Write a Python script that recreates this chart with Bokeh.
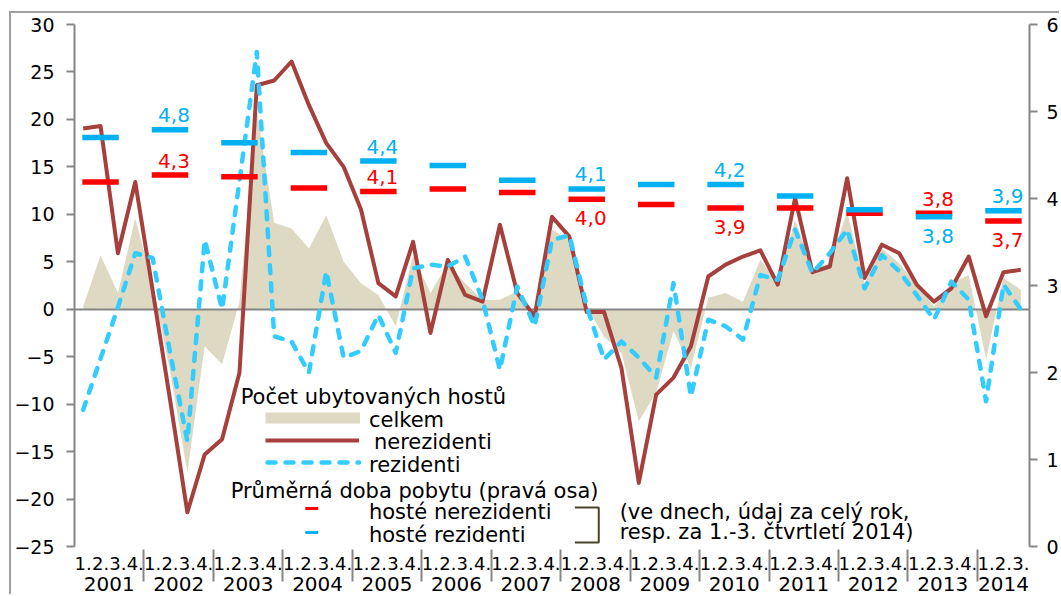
from bokeh.plotting import figure
from bokeh.models import (FactorRange, Range1d, LinearAxis, FixedTicker, Label,
                          ColumnDataSource)
from bokeh.embed import file_html
from bokeh.resources import INLINE
from bokeh.core.properties import value

# ---------------- data ----------------
years = [str(y) for y in range(2001, 2015)]
quarter_labels = ["1.", "2.", "3.", "4."]
factors = [(y, q) for y in years for q in (quarter_labels[:3] if y == "2014" else quarter_labels)]

# y/y change of number of guests (%), left axis
celkem = [0.3, 5.7, 1.7, 9.6,
          2.5, -6.5, -17.2, -3.9,
          -5.8, 0.8, 21.0, 9.1,
          8.5, 6.4, 9.9, 5.0,
          2.75, 1.5, -1.8, 5.7,
          1.7, 4.85, 2.75, 1.0,
          1.0, 1.9, -0.4, 8.4,
          7.3, 0.3, -2.9, -4.6,
          -11.8, -8.8, -2.3, -6.2,
          1.2, 1.7, 0.8, 5.2,
          2.8, 9.4, 4.3, 4.85,
          10.3, 2.75, 6.4, 4.85,
          2.6, 0.3, 2.75, 3.6,
          -5.3, 3.3, 2.05]
nerezidenti = [19.05, 19.3, 5.9, 13.4,
               2.0, -9.5, -21.4, -15.3,
               -13.7, -6.7, 23.6, 24.1,
               26.1, 21.5, 17.5, 15.0,
               10.5, 2.75, 1.35, 7.1,
               -2.5, 5.2, 1.5, 0.8,
               8.9, 1.7, -0.75, 9.75,
               7.65, -0.3, -0.3, -6.2,
               -18.3, -9.0, -7.2, -3.9,
               3.45, 4.7, 5.55, 6.2,
               2.6, 11.7, 3.9, 4.5,
               13.8, 3.3, 6.8, 5.9,
               2.6, 0.8, 2.2, 5.55,
               -0.75, 3.9, 4.15]
rezidenti = [-10.6, -5.2, 0.2, 5.9,
             5.4, -4.5, -13.9, 7.3,
             0.0, 13.5, 27.1, -2.85,
             -3.4, -6.7, 4.0, -5.1,
             -4.4, -0.6, -4.6, 4.3,
             4.7, 4.5, 5.55, 1.0,
             -6.4, 2.4, -1.8, 7.3,
             7.8, 0.3, -5.3, -3.4,
             -5.1, -7.2, 2.75, -9.2,
             -1.1, -1.8, -3.2, 3.6,
             3.1, 8.4, 3.8, 5.9,
             8.4, 2.2, 5.7, 4.0,
             1.5, -1.1, 2.9, 1.0,
             -9.7, 2.6, 0.0]

# average length of stay (days), right axis, one value per year
doba_nerezidenti = [4.19, 4.27, 4.25, 4.12, 4.08, 4.11, 4.07, 3.99, 3.93, 3.89, 3.89, 3.83, 3.83, 3.74]
doba_rezidenti = [4.70, 4.79, 4.64, 4.53, 4.43, 4.38, 4.21, 4.11, 4.16, 4.16, 4.03, 3.87, 3.79, 3.86]

# which years carry value labels: (label of rezidenti, label of nerezidenti)
label_sides = {"2002": ("above", "above"), "2005": ("above", "above"),
               "2008": ("above", "below"), "2010": ("above", "below"),
               "2013": ("below", "above"), "2014": ("above", "below")}

left_ticks = list(range(-25, 31, 5))
right_ticks = [0, 1, 2, 3, 4, 5, 6]

# ---------------- style ----------------
FONT = "DejaVu Sans"
GRAY = "#868686"
C_AREA = "#DDD9C3"
C_NER = "#A5403D"
C_REZ = "#33CCFF"
C_BAR_NER = "#FF0000"
C_BAR_REZ = "#00B0F0"
DASH = "8 10"
TEXT_LIFT = 7  # px: compensates the baseline placement of SVG texts

p = figure(x_range=FactorRange(factors=factors, range_padding=0, group_padding=0,
                               factor_padding=0, subgroup_padding=0),
           y_range=Range1d(-25, 30), width=1050, height=583,
           output_backend="svg", toolbar_location=None,
           min_border_left=59, min_border_right=31, min_border_top=11, min_border_bottom=50)
# outer chart frame: top and left border line, as in the reference
p.styles = {"margin-left": "9px", "margin-top": "11px",
            "border-left": "2px solid #A0A0A0", "border-top": "2px solid #A0A0A0"}
p.extra_y_ranges = {"right": Range1d(0, 6)}
p.outline_line_color = None
p.background_fill_color = "white"
p.border_fill_color = "white"
p.xgrid.visible = False
p.ygrid.visible = False

# left axis
ya = p.yaxis[0]
ya.ticker = FixedTicker(ticks=left_ticks)
ya.axis_line_color = GRAY
ya.axis_line_width = 2
ya.major_tick_line_color = GRAY
ya.major_tick_line_width = 2
ya.major_tick_out = 8
ya.major_tick_in = 0
ya.minor_tick_line_color = None
ya.major_label_text_font = FONT
ya.major_label_text_font_size = "19px"
ya.major_label_text_color = "black"
ya.major_label_standoff = 12

# right axis
ra = LinearAxis(y_range_name="right", ticker=FixedTicker(ticks=right_ticks))
ra.axis_line_color = GRAY
ra.axis_line_width = 2
ra.major_tick_line_color = GRAY
ra.major_tick_line_width = 2
ra.major_tick_out = 8
ra.major_tick_in = 0
ra.minor_tick_line_color = None
ra.major_label_text_font = FONT
ra.major_label_text_font_size = "19px"
ra.major_label_text_color = "black"
ra.major_label_standoff = 9
p.add_layout(ra, "right")

# bottom (categorical) axis
xa = p.xaxis[0]
xa.axis_line_color = None
xa.major_tick_line_color = None
xa.minor_tick_line_color = None
xa.major_label_orientation = "horizontal"
xa.group_label_orientation = "horizontal"
xa.major_label_text_font = FONT
xa.major_label_text_font_size = "18px"
xa.major_label_text_color = "black"
xa.major_label_standoff = 4
xa.group_text_font = FONT
xa.group_text_font_size = "20px"
xa.group_text_font_style = "normal"
xa.group_text_color = "black"
xa.separator_line_color = GRAY
xa.separator_line_width = 2

# ---------------- series ----------------
src = ColumnDataSource(dict(x=factors, celkem=celkem, ner=nerezidenti, rez=rezidenti))
p.varea(x="x", y1=0, y2="celkem", source=src, fill_color=C_AREA)
p.hspan(y=[0], line_color=GRAY, line_width=2)
p.line(x="x", y="ner", source=src, line_color=C_NER, line_width=4, line_join="round")
p.line(x="x", y="rez", source=src, line_color=C_REZ, line_width=4.5, line_dash=DASH,
       line_cap="round", line_join="round")

bar_x = [(y, "2.") for y in years]
bsrc = ColumnDataSource(dict(x=bar_x, ner=doba_nerezidenti, rez=doba_rezidenti))
p.rect(x="x", y="ner", width=2.1, height=5.5, height_units="screen", source=bsrc,
       fill_color=C_BAR_NER, line_color=None, y_range_name="right")
p.rect(x="x", y="rez", width=2.1, height=5.5, height_units="screen", source=bsrc,
       fill_color=C_BAR_REZ, line_color=None, y_range_name="right")

# value labels of the yearly bars
PX_PER_UNIT_R = 522 / 6.0
lx, ly, lt, lc = [], [], [], []
for i, yr in enumerate(years):
    if yr not in label_sides:
        continue
    side_rez, side_ner = label_sides[yr]
    for v, side, col in ((doba_rezidenti[i], side_rez, C_BAR_REZ),
                         (doba_nerezidenti[i], side_ner, C_BAR_NER)):
        off = (7.5 if side == "above" else -26) + TEXT_LIFT
        lx.append((yr, "2."))
        ly.append(v + off / PX_PER_UNIT_R)
        lt.append(f"{v:.1f}".replace(".", ","))
        lc.append(col)
p.text(x="x", y="y", text="t", text_color="c", source=ColumnDataSource(dict(x=lx, y=ly, t=lt, c=lc)),
       text_font=value(FONT), text_font_size="20px", text_align="center",
       text_baseline="alphabetic", x_offset=4, y_range_name="right")

# ---------------- legend (layout positions in reference pixels) ----------------
def fx(px):
    return (px - 70) * len(factors) / 960.0


def fy(py):
    return 30 - (py - 24) * 55 / 522.0


p.quad(left=[fx(262)], right=[fx(357)], top=[fy(412)], bottom=[fy(423)],
       fill_color=C_AREA, line_color=None)
p.line(x=[fx(262), fx(356)], y=[fy(440), fy(440)], line_color=C_NER, line_width=4)
p.line(x=[fx(264), fx(356)], y=[fy(462), fy(462)], line_color=C_REZ, line_width=4.5,
       line_dash=DASH, line_cap="round")
p.line(x=[fx(302), fx(315)], y=[fy(508), fy(508)], line_color=C_BAR_NER, line_width=3)
p.line(x=[fx(302), fx(315)], y=[fy(532), fy(532)], line_color=C_BAR_REZ, line_width=3)
p.line(x=[fx(573), fx(597), fx(597), fx(573)], y=[fy(507), fy(507), fy(542), fy(542)],
       line_color="#494429", line_width=2)

legend_texts = [
    ("Počet ubytovaných hostů", 237, 403),
    ("celkem", 366, 426),
    ("nerezidenti", 371, 448),
    ("rezidenti", 366, 471),
    ("Průměrná doba pobytu (pravá osa)", 227, 497),
    ("hosté nerezidenti", 366, 518),
    ("hosté rezidenti", 366, 541),
    ("(ve dnech, údaj za celý rok,", 618, 518),
    ("resp. za 1.-3. čtvrtletí 2014)", 618, 538),
]
for t, px, py in legend_texts:
    p.add_layout(Label(x=fx(px), y=fy(py - TEXT_LIFT), text=t, text_font=FONT,
                       text_font_size="21px", text_color="black", text_align="left",
                       text_baseline="alphabetic"))

open("out.html", "w", encoding="utf-8").write(file_html(p, INLINE))
